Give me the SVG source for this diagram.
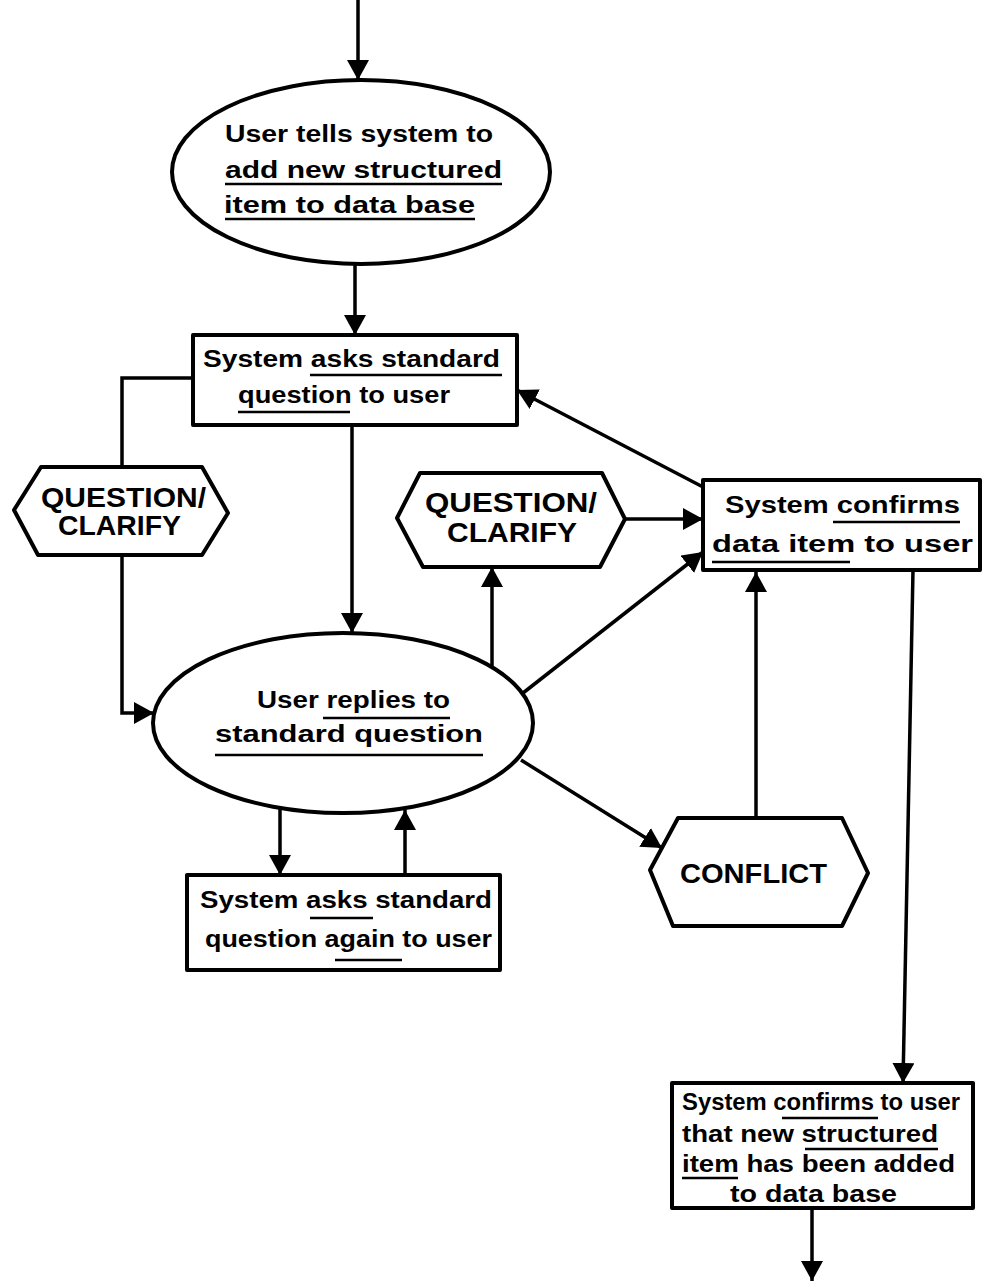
<svg xmlns="http://www.w3.org/2000/svg" width="982" height="1282" viewBox="0 0 982 1282">
<style>
.shape{fill:#fff;stroke:#000;stroke-width:4;stroke-linejoin:round}
.conn{fill:none;stroke:#000;stroke-width:3.5}
.ul{stroke:#000;stroke-width:2.5}
text{font-family:"Liberation Sans",Arial,sans-serif;font-weight:bold;fill:#000;lengthAdjust:spacingAndGlyphs}
.t{font-size:23px}
.h{font-size:28px}
</style>
<defs>
<marker id="arr" viewBox="0 0 20 22" refX="20" refY="11" markerWidth="20" markerHeight="22" markerUnits="userSpaceOnUse" orient="auto">
<path d="M0,0 L20,11 L0,22 z" fill="#000"/>
</marker>
</defs>
<rect width="982" height="1282" fill="#fff"/>
<g id="connectors">
<path class="conn" d="M358,0 L358,80" marker-end="url(#arr)"/>
<path class="conn" d="M355,264 L355,335" marker-end="url(#arr)"/>
<path class="conn" d="M352,425 L352,633" marker-end="url(#arr)"/>
<path class="conn" d="M193,378 L122,378 L122,467"/>
<path class="conn" d="M122,555 L122,713 L154,713" marker-end="url(#arr)"/>
<path class="conn" d="M492,668 L492,567" marker-end="url(#arr)"/>
<path class="conn" d="M625,519 L703,519" marker-end="url(#arr)"/>
<path class="conn" d="M523,693 L703,552" marker-end="url(#arr)"/>
<path class="conn" d="M703,487 L517,390" marker-end="url(#arr)"/>
<path class="conn" d="M521,760 L662,848" marker-end="url(#arr)"/>
<path class="conn" d="M756,818 L756,572" marker-end="url(#arr)"/>
<path class="conn" d="M913,570 L903,1083" marker-end="url(#arr)"/>
<path class="conn" d="M280,808 L280,875" marker-end="url(#arr)"/>
<path class="conn" d="M405,875 L405,810" marker-end="url(#arr)"/>
<path class="conn" d="M812,1208 L812,1281" marker-end="url(#arr)"/>
</g>
<g id="start">
<ellipse class="shape" cx="361" cy="172" rx="189" ry="92"/>
<text class="t" x="225" y="142" textLength="268" lengthAdjust="spacingAndGlyphs">User tells system to</text>
<text class="t" x="225" y="178" textLength="277" lengthAdjust="spacingAndGlyphs">add new structured</text>
<text class="t" x="224" y="213" textLength="251" lengthAdjust="spacingAndGlyphs">item to data base</text>
<line class="ul" x1="225" y1="184" x2="502" y2="184"/>
<line class="ul" x1="225" y1="219" x2="475" y2="219"/>
</g>
<g id="ask">
<rect class="shape" x="193" y="335" width="324" height="90"/>
<text class="t" x="203" y="367" textLength="297" lengthAdjust="spacingAndGlyphs">System asks standard</text>
<text class="t" x="238" y="403" textLength="212" lengthAdjust="spacingAndGlyphs">question to user</text>
<line class="ul" x1="310" y1="375" x2="502" y2="375"/>
<line class="ul" x1="238" y1="412" x2="350" y2="412"/>
</g>
<g id="clarify1">
<polygon class="shape" points="14,510 41,467 202,467 228,513 202,555 38,555"/>
<text class="h" x="41" y="507" textLength="165" lengthAdjust="spacingAndGlyphs">QUESTION/</text>
<text class="h" x="58" y="535" textLength="123" lengthAdjust="spacingAndGlyphs">CLARIFY</text>
</g>
<g id="clarify2">
<polygon class="shape" points="397,518 420,473 602,473 625,519 600,567 423,567"/>
<text class="h" x="425" y="512" textLength="172" lengthAdjust="spacingAndGlyphs">QUESTION/</text>
<text class="h" x="447" y="542" textLength="130" lengthAdjust="spacingAndGlyphs">CLARIFY</text>
</g>
<g id="confirm">
<rect class="shape" x="703" y="480" width="277" height="90"/>
<text class="t" x="725" y="513" textLength="235" lengthAdjust="spacingAndGlyphs">System confirms</text>
<text class="t" x="712" y="552" textLength="261" lengthAdjust="spacingAndGlyphs">data item to user</text>
<line class="ul" x1="833" y1="522" x2="960" y2="522"/>
<line class="ul" x1="712" y1="562" x2="850" y2="562"/>
</g>
<g id="reply">
<ellipse class="shape" cx="343" cy="723" rx="190" ry="90"/>
<text class="t" x="257" y="708" textLength="193" lengthAdjust="spacingAndGlyphs">User replies to</text>
<text class="t" x="215" y="742" textLength="268" lengthAdjust="spacingAndGlyphs">standard question</text>
<line class="ul" x1="323" y1="718" x2="450" y2="718"/>
<line class="ul" x1="215" y1="755" x2="483" y2="755"/>
</g>
<g id="askagain">
<rect class="shape" x="187" y="875" width="313" height="95"/>
<text class="t" x="200" y="908" textLength="292" lengthAdjust="spacingAndGlyphs">System asks standard</text>
<text class="t" x="205" y="947" textLength="287" lengthAdjust="spacingAndGlyphs">question again to user</text>
<line class="ul" x1="310" y1="918" x2="373" y2="918"/>
<line class="ul" x1="335" y1="960" x2="402" y2="960"/>
</g>
<g id="conflict">
<polygon class="shape" points="650,870 678,818 842,818 868,873 842,926 673,926"/>
<text class="h" x="680" y="883" textLength="147" lengthAdjust="spacingAndGlyphs">CONFLICT</text>
</g>
<g id="added">
<rect class="shape" x="672" y="1083" width="301" height="125"/>
<text class="t" x="682" y="1110" textLength="278" lengthAdjust="spacingAndGlyphs">System confirms to user</text>
<text class="t" x="682" y="1142" textLength="256" lengthAdjust="spacingAndGlyphs">that new structured</text>
<text class="t" x="682" y="1172" textLength="273" lengthAdjust="spacingAndGlyphs">item has been added</text>
<text class="t" x="730" y="1202" textLength="167" lengthAdjust="spacingAndGlyphs">to data base</text>
<line class="ul" x1="782" y1="1118" x2="878" y2="1118"/>
<line class="ul" x1="805" y1="1149" x2="938" y2="1149"/>
<line class="ul" x1="682" y1="1178" x2="738" y2="1178"/>
</g>
</svg>
